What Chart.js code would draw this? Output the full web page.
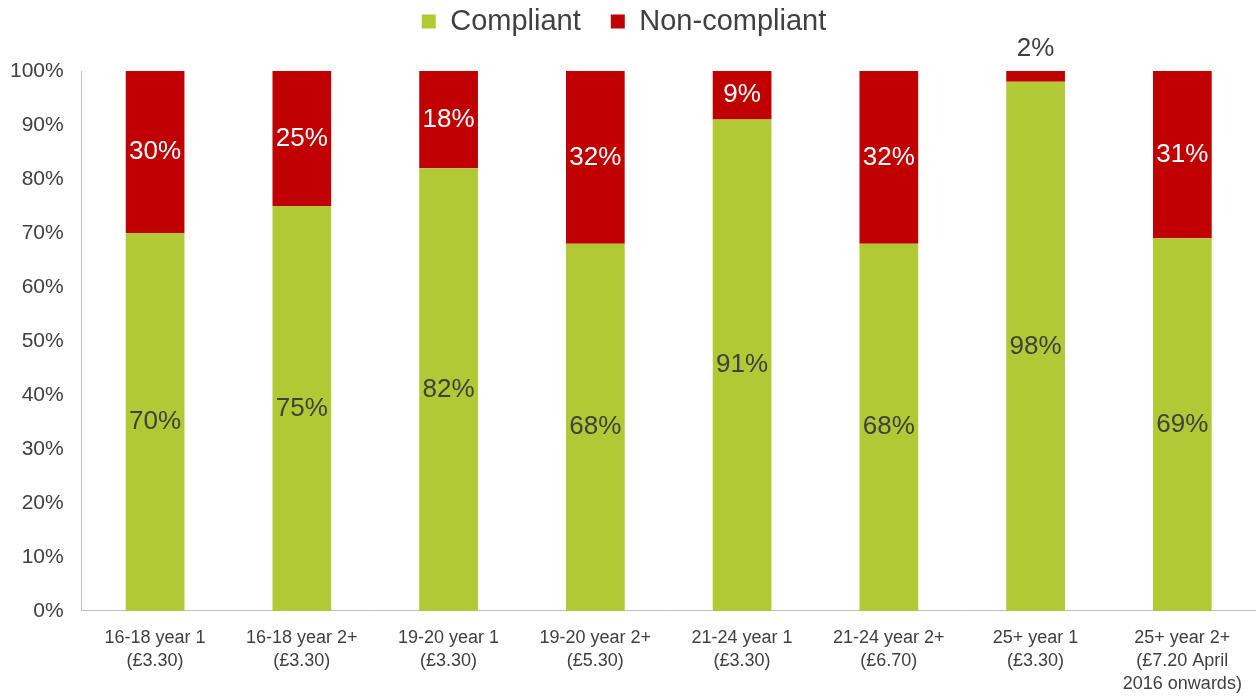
<!DOCTYPE html>
<html lang="en">
<head>
<meta charset="UTF-8">
<title>Compliance by rate band</title>
<script src="https://cdn.jsdelivr.net/npm/chart.js"></script>
<style>
  html, body { margin: 0; padding: 0; background: #fff; }
  #wrap { width: 1258px; height: 700px; }
</style>
</head>
<body>
<div id="wrap"><canvas id="chart" width="1258" height="700"></canvas></div>
<script>
// categories (multi-line labels)
const categories = [
  ["16-18 year 1", "(£3.30)"],
  ["16-18 year 2+", "(£3.30)"],
  ["19-20 year 1", "(£3.30)"],
  ["19-20 year 2+", "(£5.30)"],
  ["21-24 year 1", "(£3.30)"],
  ["21-24 year 2+", "(£6.70)"],
  ["25+ year 1", "(£3.30)"],
  ["25+ year 2+", "(£7.20 April", "2016 onwards)"]
];
const compliant = [70, 75, 82, 68, 91, 68, 98, 69];
const nonCompliant = [30, 25, 18, 32, 9, 32, 2, 31];
const yTicks = [0, 10, 20, 30, 40, 50, 60, 70, 80, 90, 100];

const GREEN = "#b1c934";
const RED = "#c00000";
const TEXT = "#404040";
const FONT = "'Liberation Sans', Arial, sans-serif";

// draws the percentage labels on each segment
const segmentLabels = {
  id: "segmentLabels",
  afterDatasetsDraw(chart) {
    const ctx = chart.ctx;
    ctx.save();
    ctx.font = "26px " + FONT;
    ctx.textAlign = "center";
    ctx.textBaseline = "middle";
    chart.data.datasets.forEach((ds, di) => {
      const meta = chart.getDatasetMeta(di);
      meta.data.forEach((bar, i) => {
        const v = ds.data[i];
        const p = bar.getProps(["x", "y", "base"], true);
        if (v < 5) {
          ctx.fillStyle = TEXT;
          ctx.fillText(v + "%", p.x, Math.min(p.y, p.base) - 22);
        } else {
          ctx.fillStyle = di === 1 ? "#ffffff" : TEXT;
          ctx.fillText(v + "%", p.x, (p.y + p.base) / 2);
        }
      });
    });
    ctx.restore();
  }
};

// fixed legend block height so the plot starts lower
const legendSpace = {
  id: "legendSpace",
  beforeInit(chart) {
    const fit = chart.legend.fit;
    chart.legend.fit = function () {
      fit.bind(chart.legend)();
      this.height = 94;
    };
  }
};

new Chart(document.getElementById("chart"), {
  type: "bar",
  data: {
    labels: categories,
    datasets: [
      { label: "Compliant", data: compliant, backgroundColor: GREEN },
      { label: "Non-compliant", data: nonCompliant, backgroundColor: RED }
    ]
  },
  options: {
    responsive: false,
    animation: false,
    layout: { padding: { left: -8, right: 2, top: -23, bottom: -12 } },
    datasets: { bar: { barPercentage: 0.4, categoryPercentage: 1.0 } },
    plugins: {
      legend: {
        position: "top",
        labels: {
          boxWidth: 14,
          boxHeight: 14,
          padding: 30,
          color: TEXT,
          font: { family: FONT, size: 29 }
        }
      },
      tooltip: { enabled: false }
    },
    scales: {
      x: {
        stacked: true,
        grid: { display: false, drawTicks: false },
        border: { color: "#bfbfbf", width: 1 },
        ticks: {
          color: TEXT,
          maxRotation: 0,
          autoSkip: false,
          padding: 16,
          font: { family: FONT, size: 18, lineHeight: 1.28 }
        }
      },
      y: {
        stacked: true,
        min: 0,
        max: 100,
        grid: { display: false, drawTicks: false },
        border: { color: "#bfbfbf", width: 1 },
        afterBuildTicks(axis) { axis.ticks = yTicks.map(v => ({ value: v })); },
        ticks: {
          color: TEXT,
          padding: 18,
          callback: v => v + "%",
          font: { family: FONT, size: 21 }
        }
      }
    }
  },
  plugins: [segmentLabels, legendSpace]
});
</script>
</body>
</html>
